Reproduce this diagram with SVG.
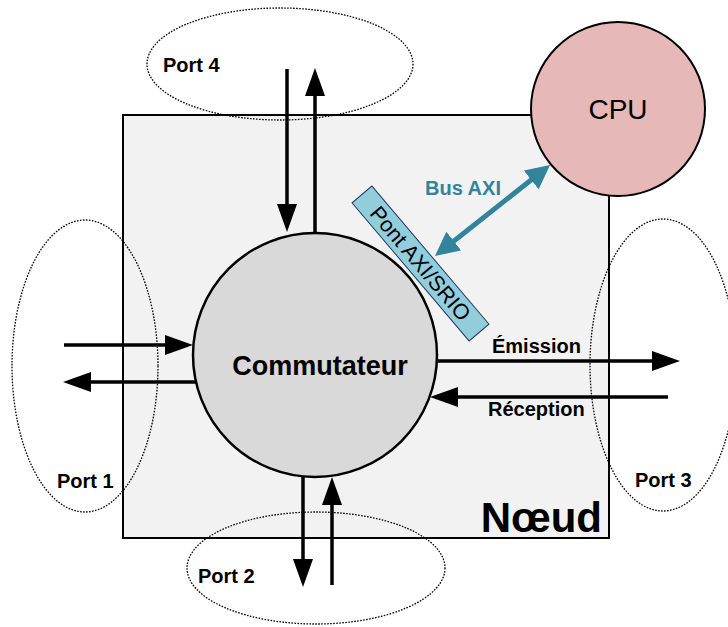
<svg xmlns="http://www.w3.org/2000/svg" width="728" height="627" viewBox="0 0 728 627">
<style>
text{font-family:"Liberation Sans",Arial,sans-serif;fill:#000}
.b{font-weight:bold}
.port{fill:none;stroke:#000;stroke-width:1.3;stroke-dasharray:1.6 1.4}
.arr{stroke:#000;stroke-width:3.5;fill:none;marker-end:url(#ah)}
.bus{stroke:#31849b;stroke-width:5;fill:none;marker-end:url(#th);marker-start:url(#th)}
</style>
<defs>
<marker id="ah" markerUnits="userSpaceOnUse" markerWidth="28" markerHeight="20" viewBox="0 0 28 20" refX="1" refY="10" orient="auto">
<path d="M0,0 L28,10 L0,20 z" fill="#000"/>
</marker>
<marker id="th" markerUnits="userSpaceOnUse" markerWidth="24" markerHeight="24" viewBox="0 0 24 24" refX="1" refY="12" orient="auto-start-reverse">
<path d="M0,0 L24,12 L0,24 z" fill="#31849b"/>
</marker>
</defs>
<rect width="728" height="627" fill="#fff"/>
<g id="noeud">
<rect x="123" y="115" width="486" height="423" fill="#f2f2f2" stroke="#000" stroke-width="2"/>
<text class="b" x="602" y="532" font-size="42" text-anchor="end">Nœud</text>
</g>
<g id="port4">
<ellipse class="port" cx="280" cy="64" rx="133" ry="56"/>
<text class="b" x="163" y="72" font-size="20">Port 4</text>
</g>
<g id="port2">
<ellipse class="port" cx="316" cy="568" rx="129" ry="56"/>
<text class="b" x="198" y="583" font-size="20">Port 2</text>
</g>
<g id="port1">
<ellipse class="port" cx="85" cy="366" rx="73" ry="146"/>
<text class="b" x="57" y="488" font-size="20">Port 1</text>
</g>
<g id="port3">
<ellipse class="port" cx="663" cy="365" rx="73" ry="146"/>
<text class="b" x="635" y="487" font-size="20">Port 3</text>
</g>
<g id="commutateur">
<circle cx="315" cy="355" r="122" fill="#d9d9d9" stroke="#000" stroke-width="2.5"/>
<text class="b" x="320" y="375" font-size="27" text-anchor="middle">Commutateur</text>
</g>
<g id="cpu">
<circle cx="618" cy="109" r="87" fill="#e6b8b7" stroke="#000" stroke-width="2"/>
<text x="618" y="119" font-size="28" text-anchor="middle">CPU</text>
</g>
<g id="pont">
<g transform="translate(420.5,263.5) rotate(49.7)">
<rect x="-90.5" y="-13" width="181" height="26" fill="#92cddc" stroke="#203864" stroke-width="1"/>
<text x="0" y="7.5" font-size="21.5" text-anchor="middle">Pont AXI/SRIO</text>
</g>
</g>
<g id="connectors">
<line class="arr" x1="287" y1="69" x2="287" y2="205"/>
<line class="arr" x1="315" y1="233" x2="315" y2="95"/>
<line class="arr" x1="303" y1="476" x2="303" y2="560"/>
<line class="arr" x1="332" y1="585" x2="332" y2="504"/>
<line class="arr" x1="64" y1="345" x2="166" y2="345"/>
<line class="arr" x1="196" y1="382" x2="90" y2="382"/>
<line class="arr" x1="437" y1="361" x2="653" y2="361"/>
<line class="arr" x1="668" y1="397" x2="457" y2="397"/>
<line class="bus" x1="453.0" y1="241.7" x2="532.0" y2="179.3"/>
<text class="b" x="492" y="353" font-size="20">Émission</text>
<text class="b" x="488" y="416" font-size="20">Réception</text>
<text class="b" x="425" y="195" font-size="20" style="fill:#31849b">Bus AXI</text>
</g>
</svg>
